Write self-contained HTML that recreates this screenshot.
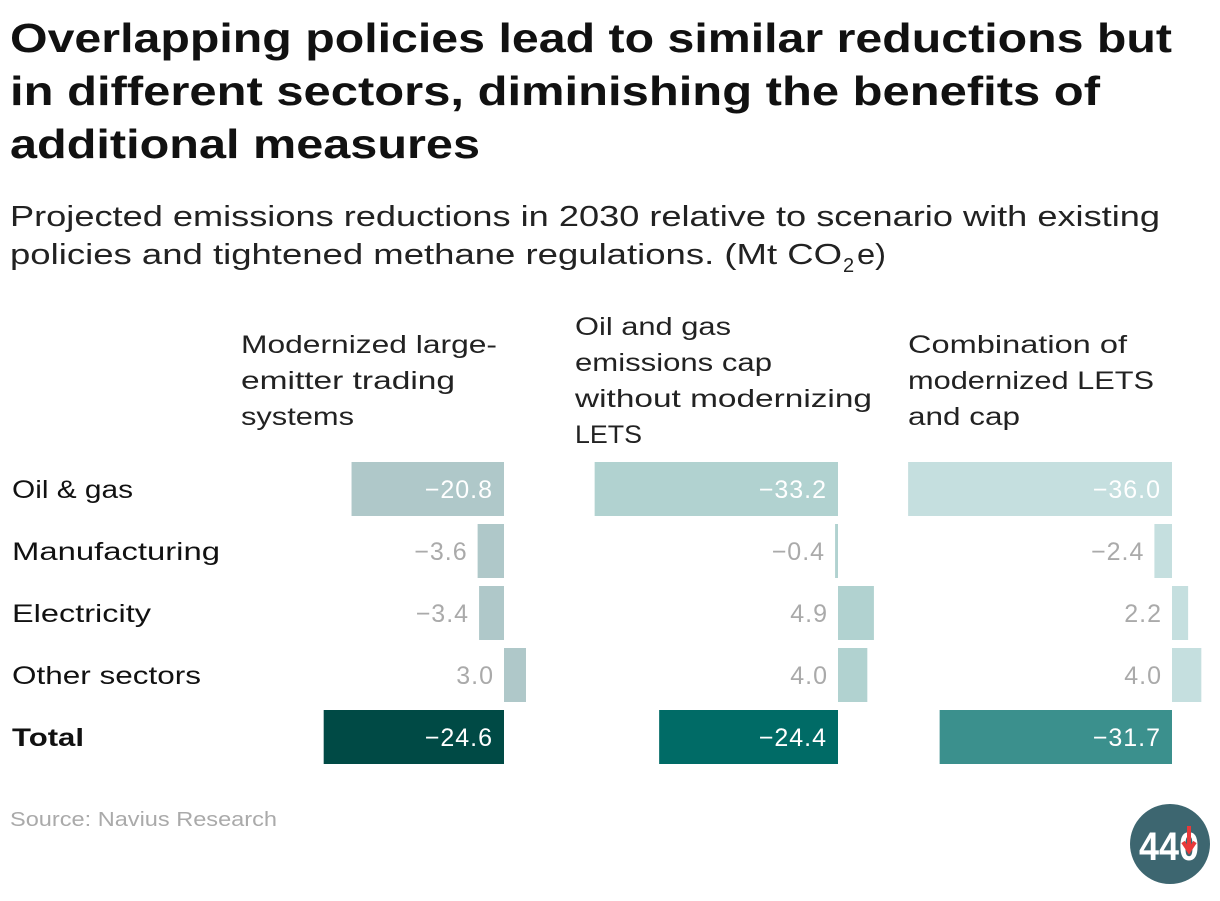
<!DOCTYPE html>
<html><head><meta charset="utf-8"><style>
body{margin:0;background:#fff;width:1220px;height:896px;overflow:hidden;font-family:"Liberation Sans",sans-serif;}
svg text{font-family:"Liberation Sans",sans-serif;}
</style></head><body>
<svg id="chart" width="1220" height="896" xmlns="http://www.w3.org/2000/svg">
<g font-size="41" font-weight="bold" fill="#111" lengthAdjust="spacingAndGlyphs">
<text x="10" y="52" textLength="1162" lengthAdjust="spacingAndGlyphs">Overlapping policies lead to similar reductions but</text>
<text x="10" y="105" textLength="1090" lengthAdjust="spacingAndGlyphs">in different sectors, diminishing the benefits of</text>
<text x="10" y="158" textLength="470" lengthAdjust="spacingAndGlyphs">additional measures</text>
</g>
<g font-size="29" fill="#222">
<text x="10" y="226" textLength="1150" lengthAdjust="spacingAndGlyphs">Projected emissions reductions in 2030 relative to scenario with existing</text>
<text x="10" y="264" textLength="832" lengthAdjust="spacingAndGlyphs">policies and tightened methane regulations. (Mt CO</text>
<text x="843" y="272" font-size="20">2</text>
<text x="857" y="264" textLength="29" lengthAdjust="spacingAndGlyphs">e)</text>
</g>
<g font-size="25" fill="#222">
<text x="241" y="353" textLength="256" lengthAdjust="spacingAndGlyphs">Modernized large-</text><text x="241" y="389" textLength="214" lengthAdjust="spacingAndGlyphs">emitter trading</text><text x="241" y="425" textLength="113" lengthAdjust="spacingAndGlyphs">systems</text>
<text x="575" y="335" textLength="156" lengthAdjust="spacingAndGlyphs">Oil and gas</text><text x="575" y="371" textLength="197" lengthAdjust="spacingAndGlyphs">emissions cap</text><text x="575" y="407" textLength="297" lengthAdjust="spacingAndGlyphs">without modernizing</text><text x="575" y="443" textLength="67" lengthAdjust="spacingAndGlyphs">LETS</text>
<text x="908" y="353" textLength="219" lengthAdjust="spacingAndGlyphs">Combination of</text><text x="908" y="389" textLength="246" lengthAdjust="spacingAndGlyphs">modernized LETS</text><text x="908" y="425" textLength="112" lengthAdjust="spacingAndGlyphs">and cap</text>
</g>
<g id="rows"></g>
<g id="bars"></g>
<text x="10" y="826" font-size="20" fill="#aaa" textLength="267" lengthAdjust="spacingAndGlyphs">Source: Navius Research</text>
<g>
<circle cx="1170" cy="844" r="40" fill="#3d6670"/>
<text x="1139" y="860" font-size="40" font-weight="bold" fill="#fff" textLength="60" lengthAdjust="spacingAndGlyphs">440</text>
<rect x="1182" y="826" width="14" height="32" fill="#3d6670" opacity="0"/>
<path d="M1189 826 v24 M1183 842 l6 9 l6 -9" stroke="#e8393a" stroke-width="4" fill="none"/>
</g>
</svg>
<script>
const categories=["Oil & gas","Manufacturing","Electricity","Other sectors","Total"];
const seriesLETS=[-20.8,-3.6,-3.4,3.0,-24.6];
const seriesCap=[-33.2,-0.4,4.9,4.0,-24.4];
const seriesCombo=[-36.0,-2.4,2.2,4.0,-31.7];
const series=[seriesLETS,seriesCap,seriesCombo];
const zeros=[504,838,1172];
const lightColors=["#afc8c9","#b1d2d0","#c5dfdf"];
const totalColors=["#004a45","#006b66","#3b908d"];
const labelLengths=[121,208,139,189,72];
const scale=7.33;
const x=(col,v)=>zeros[col]+v*scale;
const rowY=i=>462+i*62;
const ns="http://www.w3.org/2000/svg";
const rows=document.getElementById('rows'),bars=document.getElementById('bars');
categories.forEach((c,i)=>{
 const t=document.createElementNS(ns,'text');
 
 
 t.setAttribute('x',12);t.setAttribute('y',rowY(i)+36);
 t.setAttribute('font-size','25');t.setAttribute('fill','#111');
 t.setAttribute('textLength',labelLengths[i]);t.setAttribute('lengthAdjust','spacingAndGlyphs');
 if(i===4)t.setAttribute('font-weight','bold');
 t.textContent=c;rows.appendChild(t);
});
series.forEach((s,col)=>{
 s.forEach((v,i)=>{
  const x0=Math.min(x(col,0),x(col,v)),w=Math.abs(x(col,v)-x(col,0));
  const r=document.createElementNS(ns,'rect');
  
  
  r.setAttribute('x',x0);r.setAttribute('y',rowY(i));
  r.setAttribute('width',Math.max(w,1.5));r.setAttribute('height',54);
  r.setAttribute('fill',i===4?totalColors[col]:lightColors[col]);
  bars.appendChild(r);
  const inside=v<0&&w>90;
  const t=document.createElementNS(ns,'text');
  
  
  t.setAttribute('x',inside?zeros[col]-11:x0-10);
  t.setAttribute('y',rowY(i)+36);
  t.setAttribute('text-anchor','end');t.setAttribute('font-size','25');
  t.setAttribute('letter-spacing','1');
  t.setAttribute('fill',inside?'#fff':'#aaa');
  t.textContent=(v<0?'\u2212':'')+Math.abs(v).toFixed(1);
  bars.appendChild(t);
 });
});
</script>
</body></html>
